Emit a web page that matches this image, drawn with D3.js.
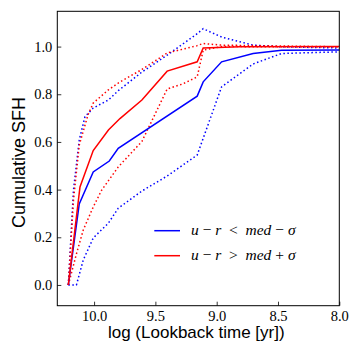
<!DOCTYPE html>
<html><head><meta charset="utf-8">
<script src="https://cdn.jsdelivr.net/npm/d3@7"></script>
<style>body{margin:0;background:#fff}svg{display:block}</style>
</head><body>
<script>
// data
const xTicks = [10.0, 9.5, 9.0, 8.5, 8.0];
const yTicks = [0.0, 0.2, 0.4, 0.6, 0.8, 1.0];

const blueSolidX = [10.210, 10.121, 10.007, 9.876, 9.803, 9.159, 9.110, 8.960, 8.703, 8.471, 8.0];
const blueSolidY = [0, 0.340, 0.474, 0.520, 0.573, 0.792, 0.852, 0.936, 0.971, 0.985, 0.986];

const redSolidX = [10.210, 10.115, 10.007, 9.883, 9.789, 9.610, 9.404, 9.159, 9.110, 8.811, 8.0];
const redSolidY = [0, 0.411, 0.564, 0.650, 0.698, 0.776, 0.897, 0.936, 0.994, 0.999, 1.0];

const blueUpX = [10.210, 10.168, 10.121, 10.074, 10.007, 9.883, 9.803, 9.610, 9.404, 9.159, 9.110, 8.960, 8.703, 8.471, 8.0];
const blueUpY = [0, 0.398, 0.608, 0.706, 0.742, 0.776, 0.815, 0.893, 0.964, 1.054, 1.075, 1.040, 1.006, 0.999, 0.994];

const blueLoX = [10.210, 10.144, 10.088, 10.007, 9.884, 9.803, 9.610, 9.404, 9.159, 8.960, 8.703, 8.471, 8.0];
const blueLoY = [0, 0, 0.105, 0.197, 0.259, 0.322, 0.394, 0.457, 0.545, 0.831, 0.927, 0.971, 0.978];

const redUpX = [10.210, 10.168, 10.121, 10.050, 10.007, 9.884, 9.803, 9.610, 9.404, 9.159, 9.110, 8.960, 8.0];
const redUpY = [0, 0.356, 0.587, 0.713, 0.763, 0.818, 0.847, 0.904, 0.973, 1.004, 1.013, 1.006, 0.999];

const redLoX = [10.210, 10.142, 10.088, 10.007, 9.938, 9.803, 9.610, 9.404, 9.278, 9.159, 9.110, 8.960, 8.0];
const redLoY = [0, 0.134, 0.231, 0.327, 0.398, 0.495, 0.602, 0.822, 0.843, 0.873, 0.985, 1.0, 0.999];

const W = 360, H = 360;
const L = 57.3, R = 339.3, T = 11.3, B = 305.7;

const svg = d3.select("body").append("svg").attr("width", W).attr("height", H);

const x = d3.scaleLinear().domain([10.30, 8.0]).range([L, R]);
const y = d3.scaleLinear().domain([-0.087, 1.148]).range([B, T]);

const line = d3.line().x(d => x(d[0])).y(d => y(d[1]));
const zip = (a, b) => a.map((v, i) => [v, b[i]]);

const series = [
  {x: blueUpX, y: blueUpY, c: "#0000ff", dash: "1.5,2.5"},
  {x: blueLoX, y: blueLoY, c: "#0000ff", dash: "1.5,2.5"},
  {x: redUpX, y: redUpY, c: "#ff0000", dash: "1.5,2.5"},
  {x: redLoX, y: redLoY, c: "#ff0000", dash: "1.5,2.5"},
  {x: blueSolidX, y: blueSolidY, c: "#0000ff", dash: null},
  {x: redSolidX, y: redSolidY, c: "#ff0000", dash: null}
];

const g = svg.append("g");
series.forEach(s => {
  g.append("path").datum(zip(s.x, s.y))
    .attr("d", line).attr("fill", "none")
    .attr("stroke", s.c).attr("stroke-width", 1.5)
    .attr("stroke-dasharray", s.dash);
});

const tickFont = "Liberation Serif";
const xAxis = svg.append("g").attr("transform", `translate(0,${B})`)
  .call(d3.axisBottom(x).tickValues(xTicks).tickFormat(d3.format(".1f"))
    .tickSizeInner(-4).tickSizeOuter(0).tickPadding(5));
xAxis.select(".domain").remove();
xAxis.selectAll("text").attr("font-family", tickFont).attr("font-size", 14.5).attr("fill", "#000");
xAxis.selectAll("line").attr("stroke", "#000").attr("stroke-width", 0.8);

const yAxis = svg.append("g").attr("transform", `translate(${L},0)`)
  .call(d3.axisLeft(y).tickValues(yTicks).tickFormat(d3.format(".1f"))
    .tickSizeInner(-4).tickSizeOuter(0).tickPadding(5));
yAxis.select(".domain").remove();
yAxis.selectAll("text").attr("font-family", tickFont).attr("font-size", 14.5).attr("fill", "#000");
yAxis.selectAll("line").attr("stroke", "#000").attr("stroke-width", 0.8);

svg.append("rect").attr("x", L).attr("y", T).attr("width", R - L).attr("height", B - T)
  .attr("fill", "none").attr("stroke", "#000").attr("stroke-width", 1);

svg.append("text").attr("x", (L + R) / 2 - 2).attr("y", 338)
  .attr("text-anchor", "middle").attr("font-family", "Liberation Sans").attr("font-size", 17)
  .text("log (Lookback time [yr])");

svg.append("text").attr("transform", `translate(25,${(T + B) / 2 + 4}) rotate(-90)`)
  .attr("text-anchor", "middle").attr("font-family", "Liberation Sans").attr("font-size", 18)
  .text("Cumulative SFH");

// legend
const legend = [
  {c: "#0000ff", parts: [["u", 1], [" \u2212 ", 0], ["r", 1], ["  <  ", 0], ["med", 1], [" \u2212 ", 0], ["\u03c3", 1]]},
  {c: "#ff0000", parts: [["u", 1], [" \u2212 ", 0], ["r", 1], ["  >  ", 0], ["med", 1], [" + ", 0], ["\u03c3", 1]]}
];
legend.forEach((l, i) => {
  const ly = 230.7 + i * 25;
  svg.append("line").attr("x1", 154.3).attr("x2", 180).attr("y1", ly).attr("y2", ly)
    .attr("stroke", l.c).attr("stroke-width", 1.5);
  const t = svg.append("text").attr("x", 191).attr("y", ly + 4.5)
    .attr("font-family", "Liberation Serif").attr("font-size", 15.5).attr("xml:space", "preserve")
    .style("white-space", "pre");
  l.parts.forEach(p => {
    t.append("tspan").attr("font-style", p[1] ? "italic" : "normal").text(p[0]);
  });
});
</script>
</body></html>
